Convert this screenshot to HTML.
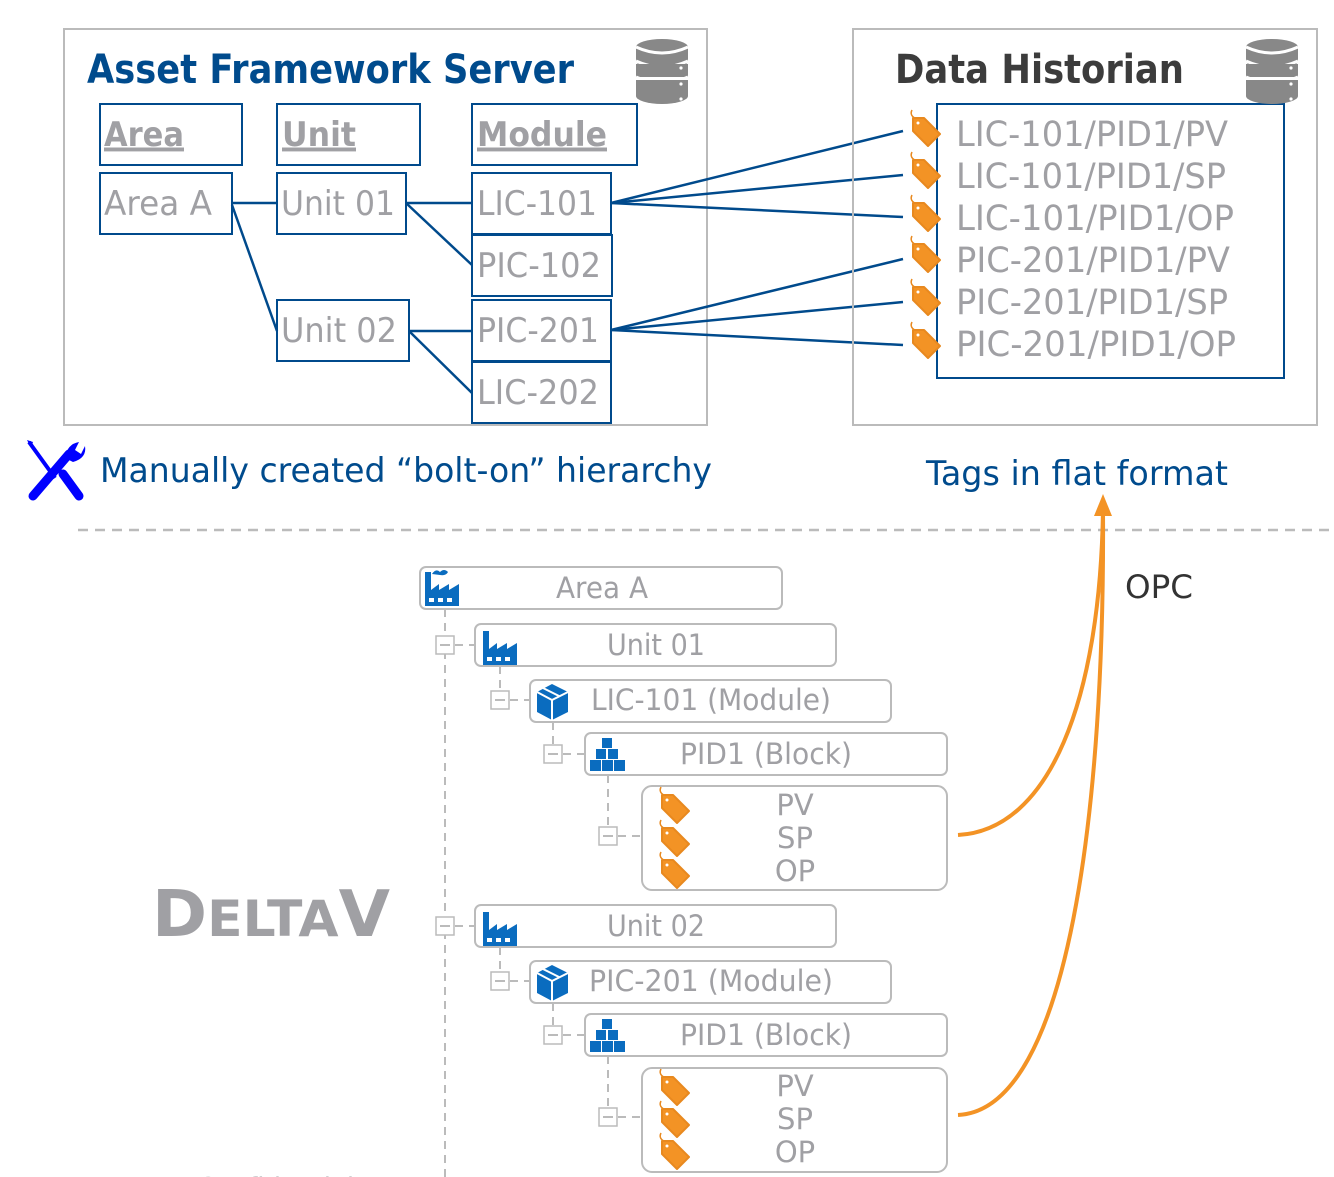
<!DOCTYPE html>
<html><head><meta charset="utf-8"><style>
html,body{margin:0;padding:0;background:#fff;}
svg{display:block;}
text{font-family:"DejaVu Sans","Liberation Sans",sans-serif;}
</style></head><body>
<svg width="1334" height="1177" viewBox="0 0 1334 1177" xmlns="http://www.w3.org/2000/svg">
<defs>
<g id="tag">
<path d="M-1,-14 q-3,6 5,9" fill="none" stroke="#e8891f" stroke-width="1.5"/>
<path d="M0,-6 L11,-6 L27,10 L15,22 L0,7 Z" fill="#f39325" stroke="#e8891f" stroke-width="2" stroke-linejoin="round"/>
<circle cx="5" cy="-1" r="1.5" fill="#fff"/>
</g>
<g id="db">
<ellipse cx="27" cy="10" rx="26" ry="8" fill="#888"/>
<rect x="1" y="10" width="52" height="14" fill="#888"/>
<ellipse cx="27" cy="24" rx="26" ry="8" fill="#888"/>
<path d="M1,24 q26,12 52,0" stroke="#fff" stroke-width="3" fill="none"/>
<rect x="1" y="27" width="52" height="13" fill="#888"/>
<path d="M1,40 q26,12 52,0" stroke="#fff" stroke-width="3" fill="none"/>
<rect x="1" y="43" width="52" height="16" fill="#888"/>
<ellipse cx="27" cy="59" rx="26" ry="8" fill="#888"/>
<path d="M1,10 q26,12 52,0" stroke="#fff" stroke-width="3" fill="none"/>
<circle cx="46" cy="31" r="1.6" fill="#fff"/><circle cx="46" cy="47" r="1.6" fill="#fff"/><circle cx="46" cy="62" r="1.6" fill="#fff"/>
</g>
<g id="factory">
<path d="M0,38 L0,4 L6,4 L6,22 L14,16 L14,22 L24,16 L24,22 L34,16 L34,38 Z" fill="#0a6cbf"/>
<rect x="4" y="30" width="5" height="4" fill="#fff"/><rect x="13" y="30" width="5" height="4" fill="#fff"/><rect x="22" y="30" width="5" height="4" fill="#fff"/>
</g>
<g id="box">
<path d="M15,0 L31,8 L31,28 L15,36 L0,28 L0,8 Z" fill="#0a6cbf"/>
<path d="M0,8 L15,16 L31,8 M15,16 L15,36 M6,4 L22,12" stroke="#fff" stroke-width="2" fill="none"/>
</g>
<g id="blocks">
<rect x="12" y="0" width="10" height="10" fill="#0a6cbf"/>
<rect x="6" y="11" width="10" height="10" fill="#0a6cbf"/><rect x="18" y="11" width="10" height="10" fill="#0a6cbf"/>
<rect x="0" y="22" width="11" height="11" fill="#0a6cbf"/><rect x="12" y="22" width="11" height="11" fill="#0a6cbf"/><rect x="24" y="22" width="11" height="11" fill="#0a6cbf"/>
</g>
<g id="exp">
<rect x="-9" y="-9" width="18" height="18" fill="#fff" stroke="#bbb" stroke-width="1.5"/>
<line x1="-5" y1="0" x2="5" y2="0" stroke="#bbb" stroke-width="2"/>
</g>
</defs>

<!-- AF server -->
<rect x="64" y="29" width="643" height="396" fill="none" stroke="#bbb" stroke-width="2"/>
<text x="87" y="83" font-size="40" font-weight="bold" fill="#004b8d" textLength="487" lengthAdjust="spacingAndGlyphs">Asset Framework Server</text>
<use href="#db" x="635" y="37"/>
<g fill="none" stroke="#004a8c" stroke-width="2">
<rect x="100" y="104" width="142" height="61"/>
<rect x="277" y="104" width="143" height="61"/>
<rect x="472" y="104" width="165" height="61"/>
<rect x="100" y="173" width="132" height="61"/>
<rect x="277" y="173" width="129" height="61"/>
<rect x="472" y="173" width="139" height="61"/>
<rect x="472" y="235" width="140" height="61"/>
<rect x="277" y="300" width="132" height="61"/>
<rect x="472" y="300" width="139" height="61"/>
<rect x="472" y="362" width="139" height="61"/>
</g>
<g font-size="34" font-weight="bold" fill="#a0a0a4" text-decoration="underline">
<text x="104" y="146" textLength="80" lengthAdjust="spacingAndGlyphs">Area</text>
<text x="282" y="146" textLength="74" lengthAdjust="spacingAndGlyphs">Unit</text>
<text x="477" y="146" textLength="130" lengthAdjust="spacingAndGlyphs">Module</text>
</g>
<g fill="#a0a0a4" stroke="#a0a0a4" stroke-width="3">
<line x1="104" y1="149" x2="184" y2="149"/><line x1="282" y1="149" x2="356" y2="149"/><line x1="477" y1="149" x2="607" y2="149"/>
</g>
<g font-size="34" fill="#a0a0a4">
<text x="104" y="215" textLength="108" lengthAdjust="spacingAndGlyphs">Area A</text>
<text x="281" y="215" textLength="114" lengthAdjust="spacingAndGlyphs">Unit 01</text>
<text x="477" y="215" textLength="120" lengthAdjust="spacingAndGlyphs">LIC-101</text>
<text x="477" y="277" textLength="124" lengthAdjust="spacingAndGlyphs">PIC-102</text>
<text x="281" y="342" textLength="116" lengthAdjust="spacingAndGlyphs">Unit 02</text>
<text x="477" y="342" textLength="122" lengthAdjust="spacingAndGlyphs">PIC-201</text>
<text x="477" y="404" textLength="122" lengthAdjust="spacingAndGlyphs">LIC-202</text>
</g>
<g stroke="#004a8c" stroke-width="2.5" fill="none">
<line x1="232" y1="203" x2="277" y2="203"/>
<line x1="232" y1="205" x2="277" y2="331"/>
<line x1="406" y1="203" x2="472" y2="203"/>
<line x1="406" y1="203" x2="472" y2="265"/>
<line x1="409" y1="331" x2="472" y2="331"/>
<line x1="409" y1="331" x2="472" y2="393"/>
<line x1="611" y1="203" x2="903" y2="131"/>
<line x1="611" y1="203" x2="903" y2="175"/>
<line x1="611" y1="203" x2="903" y2="217"/>
<line x1="611" y1="330" x2="903" y2="259"/>
<line x1="611" y1="330" x2="903" y2="302"/>
<line x1="611" y1="330" x2="903" y2="345"/>
</g>

<!-- Data historian -->
<rect x="853" y="29" width="464" height="396" fill="none" stroke="#bbb" stroke-width="2"/>
<rect x="937" y="104" width="347" height="274" fill="none" stroke="#004a8c" stroke-width="2"/>
<text x="895" y="83" font-size="40" font-weight="bold" fill="#3c3c3c" textLength="289" lengthAdjust="spacingAndGlyphs">Data Historian</text>
<use href="#db" x="1245" y="37"/>
<use href="#tag" x="913" y="124"/>
<use href="#tag" x="913" y="166"/>
<use href="#tag" x="913" y="209"/>
<use href="#tag" x="913" y="250"/>
<use href="#tag" x="913" y="293"/>
<use href="#tag" x="913" y="336"/>
<g font-size="35" fill="#a0a0a4">
<text x="956" y="146" textLength="272" lengthAdjust="spacingAndGlyphs">LIC-101/PID1/PV</text>
<text x="956" y="188" textLength="270" lengthAdjust="spacingAndGlyphs">LIC-101/PID1/SP</text>
<text x="956" y="230" textLength="278" lengthAdjust="spacingAndGlyphs">LIC-101/PID1/OP</text>
<text x="956" y="272" textLength="274" lengthAdjust="spacingAndGlyphs">PIC-201/PID1/PV</text>
<text x="956" y="314" textLength="272" lengthAdjust="spacingAndGlyphs">PIC-201/PID1/SP</text>
<text x="956" y="356" textLength="280" lengthAdjust="spacingAndGlyphs">PIC-201/PID1/OP</text>
</g>

<!-- captions -->
<g transform="translate(25,440)">
<path d="M4,2 L30,38" stroke="#0000ff" stroke-width="4"/>
<path d="M2,0 L8,2 L6,8 Z" fill="#0000ff"/>
<path d="M8,56 L44,14 M38,34 L54,56" stroke="#0000ff" stroke-width="9" stroke-linecap="round"/>
<path d="M40,18 Q42,4 54,2 L50,10 L56,14 L60,6 Q62,18 48,22 Z" fill="#0000ff"/>
</g>
<text x="100" y="482" font-size="34" fill="#004b8d" textLength="612" lengthAdjust="spacingAndGlyphs">Manually created “bolt-on” hierarchy</text>
<text x="926" y="485" font-size="34" fill="#004b8d" textLength="302" lengthAdjust="spacingAndGlyphs">Tags in flat format</text>
<line x1="78" y1="530" x2="1334" y2="530" stroke="#bbb" stroke-width="2.5" stroke-dasharray="10,7"/>

<!-- OPC arrows -->
<g stroke="#f39325" stroke-width="4" fill="none">
<path d="M958,835 C1050,830 1100,700 1103,510"/>
<path d="M958,1115 C1070,1110 1105,800 1103,510"/>
</g>
<path d="M1094,516 L1103,494 L1112,516 Z" fill="#f39325"/>
<text x="1125" y="598" font-size="32" fill="#333" textLength="68" lengthAdjust="spacingAndGlyphs">OPC</text>

<!-- DeltaV -->
<g fill="#a0a0a4" font-family="Liberation Sans, sans-serif" font-weight="bold">
<text x="152" y="936" font-size="64" textLength="238" lengthAdjust="spacingAndGlyphs">D<tspan font-size="50">ELTA</tspan>V</text>
</g>

<!-- tree -->
<g stroke="#bbb" stroke-width="2" stroke-dasharray="8,6" fill="none">
<line x1="445" y1="609" x2="445" y2="1177"/>
<line x1="455" y1="645" x2="475" y2="645"/>
<line x1="500" y1="666" x2="500" y2="700"/>
<line x1="510" y1="700" x2="530" y2="700"/>
<line x1="553" y1="722" x2="553" y2="754"/>
<line x1="563" y1="754" x2="585" y2="754"/>
<line x1="608" y1="775" x2="608" y2="836"/>
<line x1="618" y1="836" x2="642" y2="836"/>
<line x1="455" y1="926" x2="475" y2="926"/>
<line x1="500" y1="947" x2="500" y2="981"/>
<line x1="510" y1="981" x2="530" y2="981"/>
<line x1="553" y1="1003" x2="553" y2="1035"/>
<line x1="563" y1="1035" x2="585" y2="1035"/>
<line x1="608" y1="1056" x2="608" y2="1117"/>
<line x1="618" y1="1117" x2="642" y2="1117"/>
</g>
<use href="#exp" x="445" y="645"/><use href="#exp" x="500" y="700"/><use href="#exp" x="553" y="754"/><use href="#exp" x="608" y="836"/>
<use href="#exp" x="445" y="926"/><use href="#exp" x="500" y="981"/><use href="#exp" x="553" y="1035"/><use href="#exp" x="608" y="1117"/>
<g fill="#fff" stroke="#bbb" stroke-width="2">
<rect x="420" y="567" width="362" height="42" rx="6"/>
<rect x="475" y="624" width="361" height="42" rx="6"/>
<rect x="530" y="680" width="361" height="42" rx="6"/>
<rect x="585" y="733" width="362" height="42" rx="6"/>
<rect x="642" y="786" width="305" height="104" rx="10"/>
<rect x="475" y="905" width="361" height="42" rx="6"/>
<rect x="530" y="961" width="361" height="42" rx="6"/>
<rect x="585" y="1014" width="362" height="42" rx="6"/>
<rect x="642" y="1068" width="305" height="104" rx="10"/>
</g>
<use href="#factory" x="425" y="568"/>
<path d="M432,574 q4,-6 8,-2 q4,-4 8,0 q-2,4 -8,3 z" fill="#0a6cbf"/>
<use href="#factory" x="483" y="627"/>
<use href="#box" x="537" y="684"/>
<use href="#blocks" x="590" y="738"/>
<use href="#factory" x="483" y="908"/>
<use href="#box" x="537" y="965"/>
<use href="#blocks" x="590" y="1019"/>
<use href="#tag" x="662" y="801"/><use href="#tag" x="662" y="834"/><use href="#tag" x="662" y="866"/>
<use href="#tag" x="662" y="1083"/><use href="#tag" x="662" y="1115"/><use href="#tag" x="662" y="1147"/>
<g font-size="29" fill="#a0a0a4" text-anchor="middle">
<text x="602" y="598" textLength="92" lengthAdjust="spacingAndGlyphs">Area A</text>
<text x="656" y="655" textLength="98" lengthAdjust="spacingAndGlyphs">Unit 01</text>
<text x="711" y="710" textLength="240" lengthAdjust="spacingAndGlyphs">LIC-101 (Module)</text>
<text x="766" y="764" textLength="172" lengthAdjust="spacingAndGlyphs">PID1 (Block)</text>
<text x="795" y="815">PV</text>
<text x="795" y="848">SP</text>
<text x="795" y="881">OP</text>
<text x="656" y="936" textLength="98" lengthAdjust="spacingAndGlyphs">Unit 02</text>
<text x="711" y="991" textLength="244" lengthAdjust="spacingAndGlyphs">PIC-201 (Module)</text>
<text x="766" y="1045" textLength="172" lengthAdjust="spacingAndGlyphs">PID1 (Block)</text>
<text x="795" y="1096">PV</text>
<text x="795" y="1129">SP</text>
<text x="795" y="1162">OP</text>
</g>
<text x="75" y="1196" font-size="26" fill="#a0a0a4">Emerson Confidential</text>
</svg>
</body></html>
